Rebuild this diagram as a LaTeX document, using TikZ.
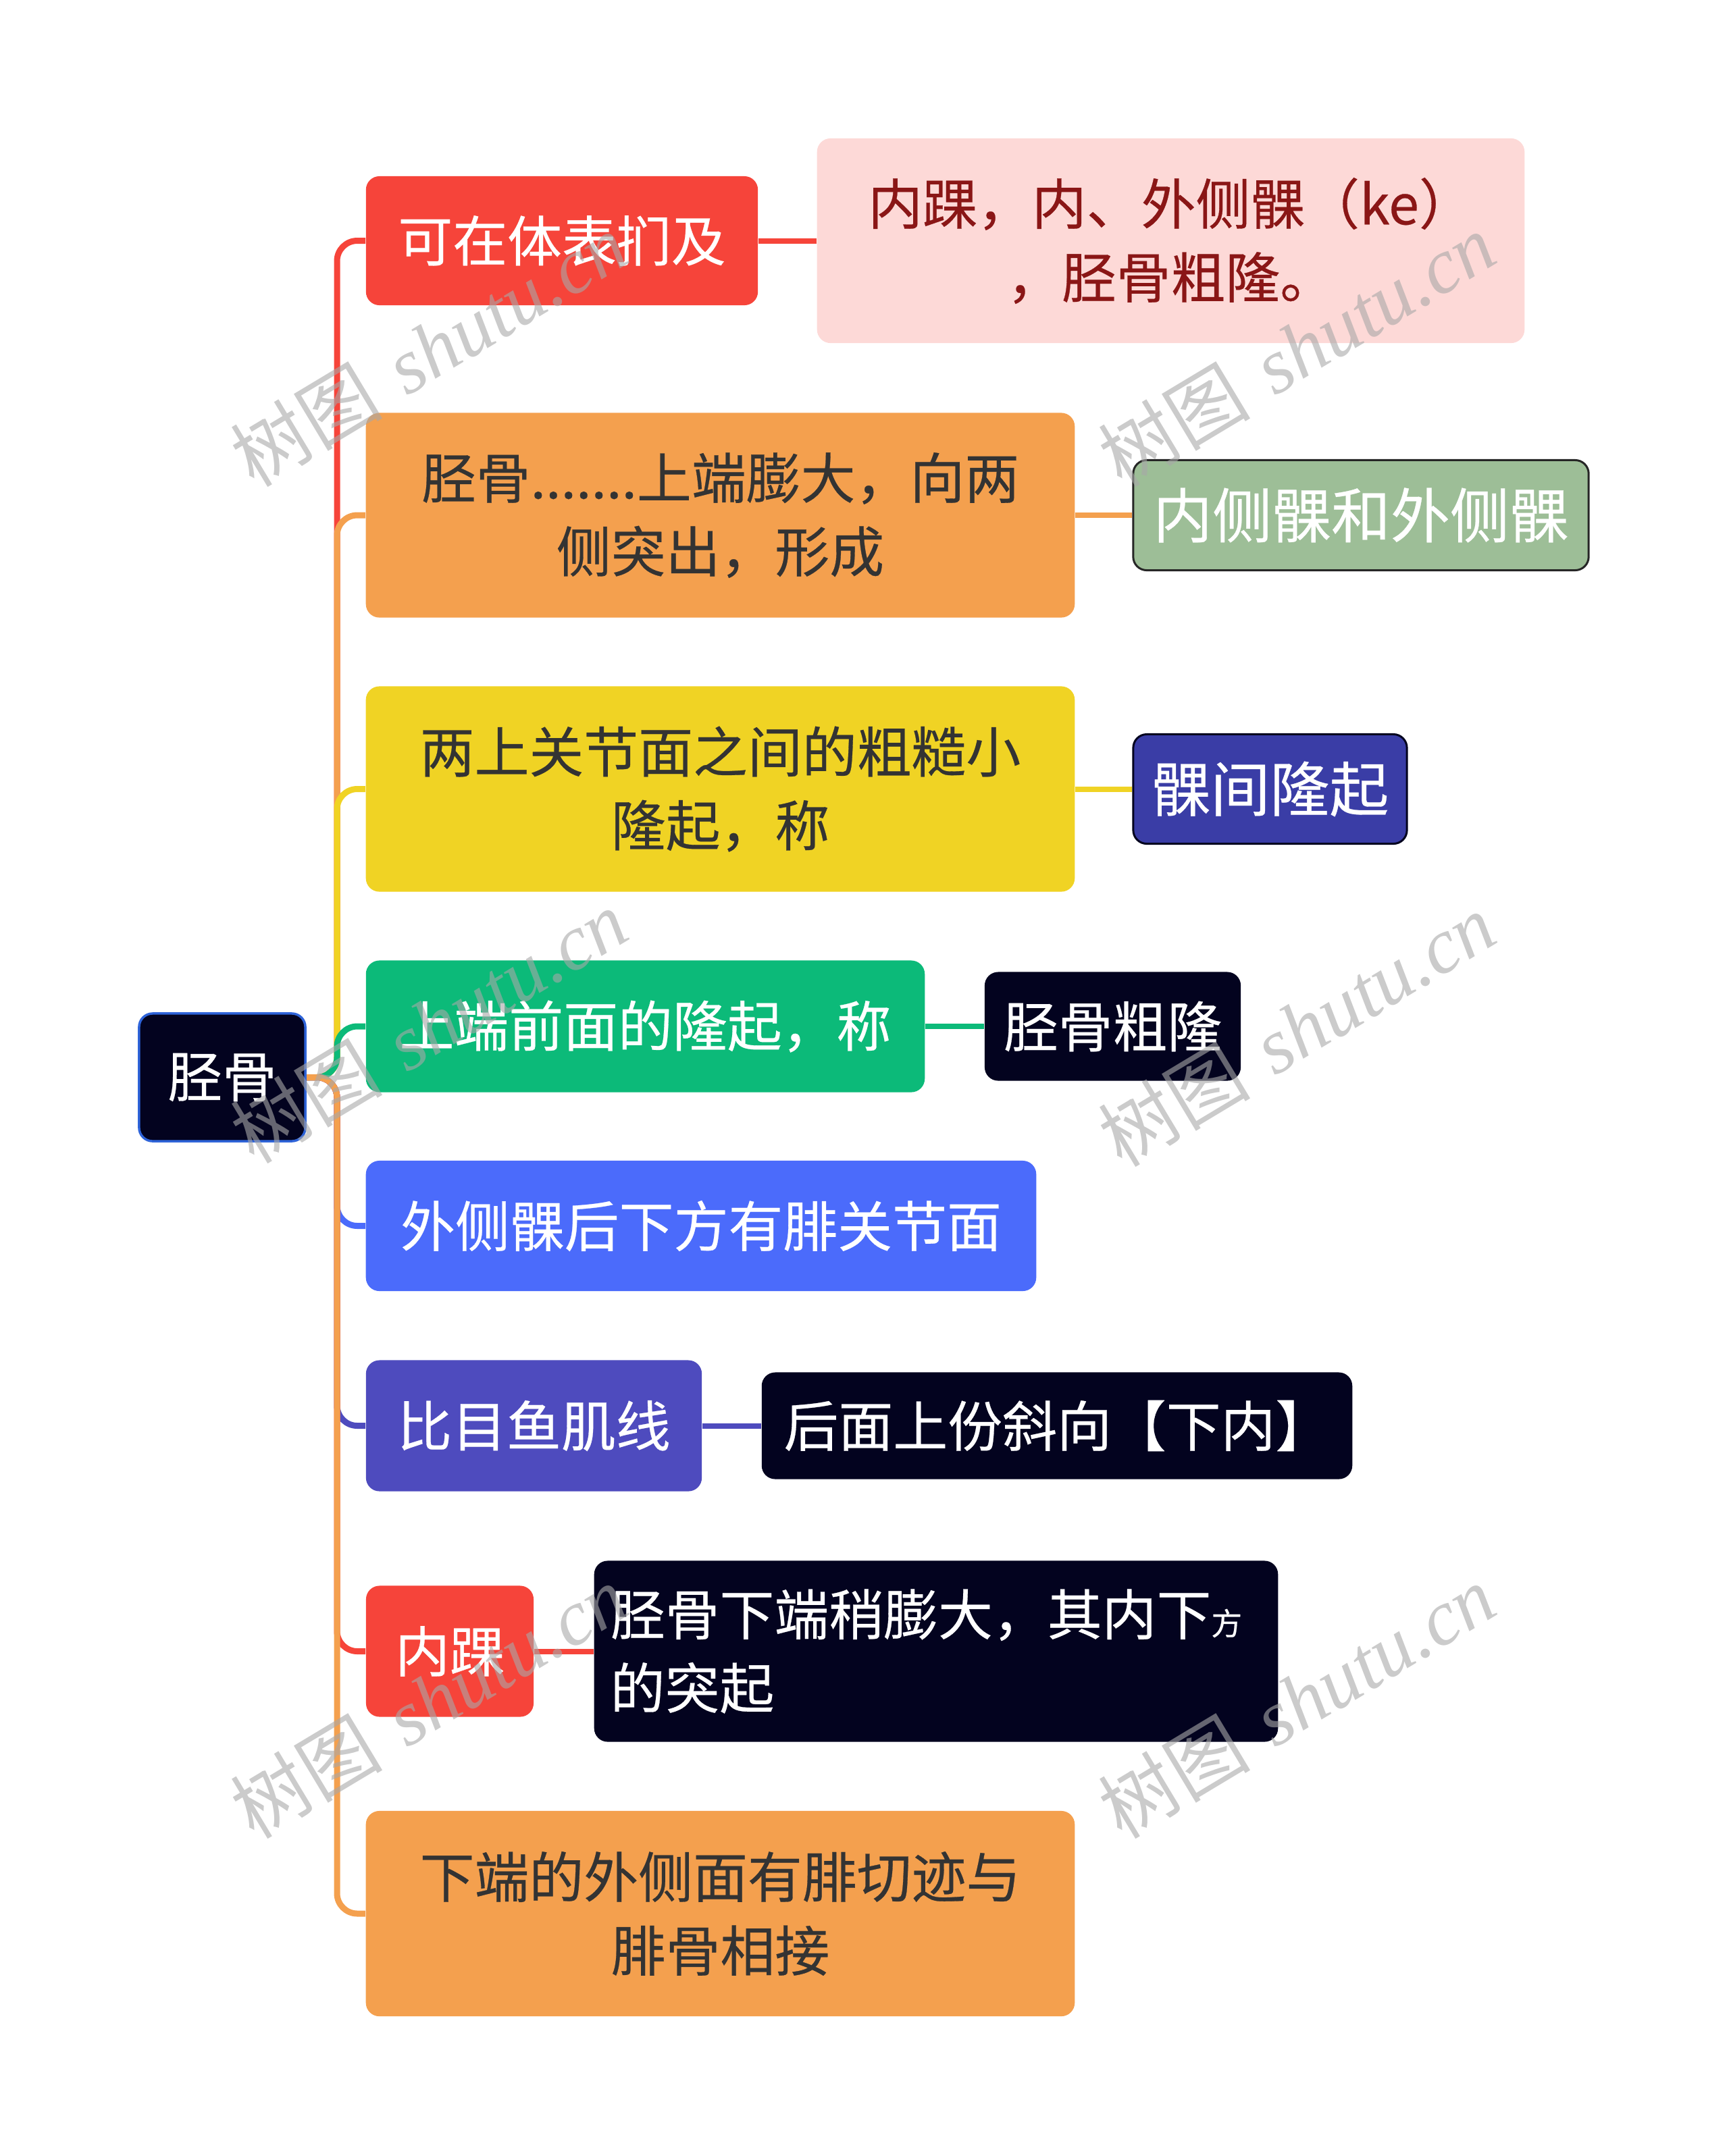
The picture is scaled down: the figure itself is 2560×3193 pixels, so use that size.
\documentclass[tikz,border=0pt]{standalone}
\usepackage{fontspec}
\setmainfont{Noto Sans CJK SC}[FakeBold=0.35]
\newfontfamily\wmlatin{Liberation Serif}
\newfontfamily\wmcjk{Noto Sans CJK SC}
\definecolor{cred}{HTML}{F6443A}
\definecolor{cpink}{HTML}{FDD9D7}
\definecolor{cpinktext}{HTML}{8A1616}
\definecolor{corange}{HTML}{F4A04E}
\definecolor{cyellow}{HTML}{F0D324}
\definecolor{cgreen}{HTML}{0CBA79}
\definecolor{cblue}{HTML}{4B6BFB}
\definecolor{cpurple}{HTML}{4E4BBE}
\definecolor{csage}{HTML}{9DBE97}
\definecolor{cindigo}{HTML}{3A3DA6}
\definecolor{cnavy}{HTML}{03031F}
\definecolor{crootborder}{HTML}{2E63D8}
\definecolor{cdark}{HTML}{333333}
\definecolor{wmgray}{HTML}{A8A8A8}
\pgfdeclarelayer{bglayer}
\pgfdeclarelayer{wmlayer}
\pgfsetlayers{bglayer,main,wmlayer}
\begin{document}
\begin{tikzpicture}[x=0.01cm,y=-0.01cm,
  box/.style={rounded corners=0.2cm, inner sep=0pt, align=center, font=\fontsize{23pt}{31pt}\selectfont},
  bigbox/.style={box, font=\fontsize{25pt}{31pt}\selectfont},
  conn/.style={line width=0.09cm, rounded corners=0.3cm},
  link/.style={line width=0.08cm},
  wm/.style={rotate=31, text=wmgray, text opacity=0.6, inner sep=0pt}]
\useasboundingbox (0,0) rectangle (2560,3193);

% ---------- nodes ----------
\node[box, fill=cnavy, draw=crootborder, line width=0.035cm, text=white,
      minimum width=2.46cm, minimum height=1.89cm] (root) at (329,1595.5) {胫骨};
\coordinate (j) at (499,1595.5);

\node[box, fill=cred, text=white, minimum width=5.80cm, minimum height=1.91cm] (n1) at (832,356.5) {可在体表扪及};
\node[box, fill=corange, text=cdark, minimum width=10.49cm, minimum height=3.03cm] (n2) at (1066.5,763) {胫骨.......上端膨大，向两\\侧突出，形成};
\node[box, fill=cyellow, text=cdark, minimum width=10.49cm, minimum height=3.04cm] (n3) at (1066.5,1168.5) {两上关节面之间的粗糙小\\隆起，称};
\node[box, fill=cgreen, text=white, minimum width=8.27cm, minimum height=1.95cm] (n4) at (955.5,1520) {上端前面的隆起，称};
\node[box, fill=cblue, text=white, minimum width=9.92cm, minimum height=1.93cm] (n5) at (1038,1815.5) {外侧髁后下方有腓关节面};
\node[box, fill=cpurple, text=white, minimum width=4.97cm, minimum height=1.94cm] (n6) at (790.5,2111.5) {比目鱼肌线};
\node[box, fill=cred, text=white, minimum width=2.48cm, minimum height=1.94cm] (n7) at (666,2445.5) {内踝};
\node[box, fill=corange, text=cdark, minimum width=10.49cm, minimum height=3.04cm] (n8) at (1066.5,2834) {下端的外侧面有腓切迹与\\腓骨相接};

\node[box, fill=cpink, text=cpinktext, minimum width=10.47cm, minimum height=3.03cm] (m1) at (1733.5,356.5) {内踝，内、外侧髁（ke）\\，胫骨粗隆。};
\node[bigbox, fill=csage, draw=black!85, line width=0.03cm, text=white, minimum width=6.74cm, minimum height=1.63cm] (m2) at (2015,763) {内侧髁和外侧髁};
\node[bigbox, fill=cindigo, draw=cnavy, line width=0.03cm, text=white, minimum width=4.05cm, minimum height=1.62cm] (m3) at (1880.5,1168.5) {髁间隆起};
\node[box, fill=cnavy, text=white, minimum width=3.79cm, minimum height=1.61cm] (m4) at (1647.5,1520) {胫骨粗隆};
\node[box, fill=cnavy, text=white, minimum width=8.74cm, minimum height=1.58cm] (m6) at (1565,2111.5) {后面上份斜向【下内】};
\node[box, fill=cnavy, text=white, align=left, text width=9.64cm, inner xsep=0.24cm, minimum height=2.68cm] (m7) at (1386,2445.5) {胫骨下端稍膨大，其内下{\fontsize{13pt}{13pt}\selectfont 方}\\的突起};

% ---------- connectors, behind the nodes ----------
\begin{pgfonlayer}{bglayer}
\draw[conn, cred]    (root.east) -- (j) |- (n1.west);
\draw[conn, corange] (root.east) -- (j) |- (n2.west);
\draw[conn, cyellow] (root.east) -- (j) |- (n3.west);
\draw[conn, cgreen]  (root.east) -- (j) |- (n4.west);
\draw[conn, cblue]   (root.east) -- (j) |- (n5.west);
\draw[conn, cpurple] (root.east) -- (j) |- (n6.west);
\draw[conn, cred]    (root.east) -- (j) |- (n7.west);
\draw[conn, corange] (root.east) -- (j) |- (n8.west);
\draw[link, cred]    (n1.east) -- (m1.west);
\draw[link, corange] (n2.east) -- (m2.west);
\draw[link, cyellow] (n3.east) -- (m3.west);
\draw[link, cgreen]  (n4.east) -- (m4.west);
\draw[link, cpurple] (n6.east) -- (m6.west);
\draw[link, cred]    (n7.east) -- (m7.west);
\end{pgfonlayer}

% ---------- watermarks ----------
\begin{pgfonlayer}{wmlayer}
\foreach \wx/\wy [count=\k] in {635/518, 1920/518, 635/1520, 1920/1525, 635/2520, 1920/2520}{
  \node[wm] (wm\k) at (\wx,\wy) {{\wmcjk\fontsize{32pt}{32pt}\selectfont 树图}\hspace{11pt}{\wmlatin\itshape\fontsize{33pt}{33pt}\selectfont shutu.cn}};
}
\end{pgfonlayer}
\end{tikzpicture}%
\end{document}
